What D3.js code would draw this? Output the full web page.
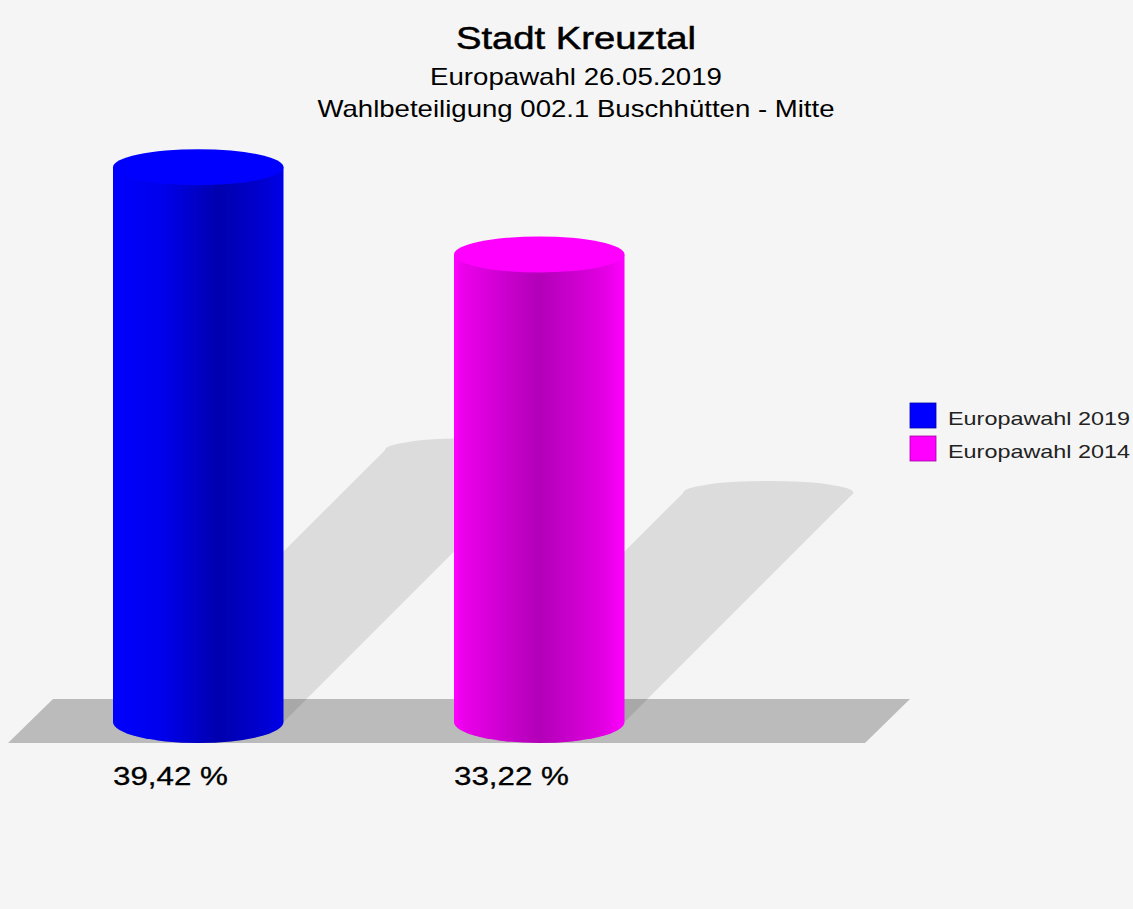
<!DOCTYPE html>
<html>
<head>
<meta charset="utf-8">
<script src="https://cdn.jsdelivr.net/npm/d3@7"></script>
<style>
  html, body { margin: 0; padding: 0; background: #f5f5f5; }
  svg { display: block; }
  text { font-family: "Liberation Sans", Arial, sans-serif; fill: #000; }
</style>
</head>
<body>
<svg id="chart" width="1133" height="909"></svg>
<script>
// ----------------------------
// DATA
// ----------------------------
const titleLines = ["Stadt Kreuztal", "Europawahl 26.05.2019", "Wahlbeteiligung 002.1 Buschhütten - Mitte"];
const series = ["Europawahl 2019", "Europawahl 2014"];
const turnout = [39.42, 33.22];

// colours per series (top face, body gradient stops)
const topColors = ["#0000ff", "#ff00ff"];
const bodyStops = [
  [[0, "#0000ff"], [0.3, "#0000ea"], [0.62, "#0000ae"], [0.9, "#0000d4"], [1, "#0000ea"]],
  [[0, "#ff00ff"], [0.06, "#ea00ea"], [0.5, "#b200b8"], [0.88, "#e200e2"], [1, "#ff00ff"]]
];

const svg = d3.select("#chart");
const fmt = v => d3.format(".2f")(v).replace(".", ",") + " %";

// ----------------------------
// SCALES
// ----------------------------
const base = 722;
const x = d3.scaleBand().domain(series).range([27.75, 709.75]).paddingInner(0.5).paddingOuter(0.25);
const y = d3.scaleLinear().domain([0, 40]).range([base, 159]);

const ryTop = 18, ryBottom = 21, ryShadow = 12, shadowK = 0.49;

// ----------------------------
// DEFS
// ----------------------------
const defs = svg.append("defs");
series.forEach((s, i) => {
  const grad = defs.append("linearGradient")
    .attr("id", "body" + i)
    .attr("x1", 0).attr("x2", 1).attr("y1", 0).attr("y2", 0);
  grad.selectAll("stop").data(bodyStops[i]).join("stop")
    .attr("offset", d => d[0])
    .attr("stop-color", d => d[1]);
});

// ----------------------------
// TITLE
// ----------------------------
const titleSpec = [
  { size: 31, y: 49, len: 240, weight: 600 },
  { size: 24, y: 85, len: 292, weight: 400 },
  { size: 24, y: 117, len: 517, weight: 400 }
];
svg.append("g").selectAll("text")
  .data(titleLines)
  .join("text")
  .attr("x", 576)
  .attr("y", (d, i) => titleSpec[i].y)
  .attr("text-anchor", "middle")
  .style("font-size", (d, i) => titleSpec[i].size + "px")
  .style("stroke", (d, i) => i === 0 ? "#000" : "none")
  .style("stroke-width", 0.5)
  .attr("textLength", (d, i) => titleSpec[i].len)
  .attr("lengthAdjust", "spacingAndGlyphs")
  .text(d => d);

// ----------------------------
// FLOOR
// ----------------------------
const floorTop = 699, floorBottom = 743;
svg.append("polygon")
  .attr("points", [[8, floorBottom], [53, floorTop], [910, floorTop], [865, floorBottom]].join(" "))
  .attr("fill", "#bbbbbb");

// ----------------------------
// SHADOWS
// ----------------------------
const data = series.map((s, i) => ({ s, v: turnout[i], i }));

svg.append("g").selectAll("path")
  .data(data)
  .join("path")
  .attr("fill", "#000")
  .attr("fill-opacity", 0.1)
  .attr("d", d => {
    const x0 = x(d.s), x1 = x0 + x.bandwidth(), rx = x.bandwidth() / 2;
    const dd = shadowK * (base - y(d.v));
    return `M${x0},${base} L${x0 + dd},${base - dd} A${rx},${ryShadow} 0 0 1 ${x1 + dd},${base - dd}` +
           ` L${x1},${base} A${rx},${ryBottom} 0 0 1 ${x0},${base} Z`;
  });

// ----------------------------
// CYLINDERS
// ----------------------------
const cyl = svg.append("g").selectAll("g")
  .data(data)
  .join("g");

cyl.append("path")
  .attr("fill", d => `url(#body${d.i})`)
  .attr("d", d => {
    const x0 = x(d.s), x1 = x0 + x.bandwidth(), rx = x.bandwidth() / 2;
    const yt = y(d.v);
    return `M${x0},${yt} L${x0},${base} A${rx},${ryBottom} 0 0 0 ${x1},${base} L${x1},${yt} Z`;
  });

cyl.append("ellipse")
  .attr("cx", d => x(d.s) + x.bandwidth() / 2)
  .attr("cy", d => y(d.v))
  .attr("rx", x.bandwidth() / 2)
  .attr("ry", ryTop)
  .attr("fill", d => topColors[d.i]);

// value labels
svg.append("g").selectAll("text")
  .data(data)
  .join("text")
  .attr("x", d => x(d.s))
  .attr("y", 785)
  .style("font-size", "25px")
  .style("stroke", "#000")
  .style("stroke-width", 0.3)
  .attr("textLength", 115)
  .attr("lengthAdjust", "spacingAndGlyphs")
  .text(d => fmt(d.v));

// ----------------------------
// LEGEND
// ----------------------------
const legend = svg.append("g").selectAll("g")
  .data(data)
  .join("g")
  .attr("transform", d => `translate(910,${403 + d.i * 33})`);

legend.append("rect")
  .attr("width", 26).attr("height", 25)
  .attr("fill", d => topColors[d.i])
  .attr("stroke", d => d3.color(topColors[d.i]).darker(1.2))
  .attr("stroke-width", 0.8);

legend.append("text")
  .attr("x", 38)
  .attr("y", 22)
  .style("font-size", "19px")
  .style("fill", "#222")
  .attr("textLength", 182)
  .attr("lengthAdjust", "spacingAndGlyphs")
  .text(d => d.s);
</script>
</body>
</html>
